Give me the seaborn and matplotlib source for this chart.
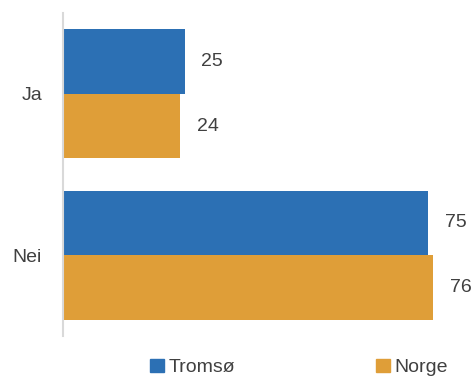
import matplotlib
matplotlib.use("Agg")
import matplotlib.pyplot as plt
import seaborn as sns
import pandas as pd
from matplotlib.patches import Patch

categories = ["Ja", "Nei"]
series = ["Tromsø", "Norge"]
tromso = [25, 75]
norge = [24, 76]
colors = ["#2C70B4", "#DF9E38"]

df = pd.DataFrame({
    "svar": categories * 2,
    "sted": [series[0]] * 2 + [series[1]] * 2,
    "verdi": tromso + norge,
})

sns.set_theme(style="white")
plt.rcParams["font.family"] = ["Liberation Sans", "DejaVu Sans"]
text_col = "#404040"

fig = plt.figure(figsize=(4.75, 3.76), dpi=100)
ax = fig.add_axes([0.1326, 0.1064, 0.8674, 0.859])

sns.barplot(data=df, y="svar", x="verdi", hue="sted", orient="h",
            palette=colors, width=0.8, saturation=1, linewidth=0,
            ax=ax, legend=False)

for c in ax.containers:
    ax.bar_label(c, padding=12, fontsize=14, color=text_col)

ax.set_xlim(0, 84.6)
ax.set_ylim(1.5, -0.5)
ax.set_xticks([])
ax.set_xlabel("")
ax.set_ylabel("")
ax.tick_params(axis="y", length=0, pad=15, labelsize=14, labelcolor=text_col)
for s in ["top", "right", "bottom"]:
    ax.spines[s].set_visible(False)
ax.spines["left"].set_color("#d9d9d9")
ax.spines["left"].set_linewidth(1.5)

handles = [Patch(color=colors[0], label=series[0]),
           Patch(color=colors[1], label=series[1])]
fig.legend(handles=handles, loc="lower center", bbox_to_anchor=(0.63, -0.047),
           ncol=2, frameon=False, fontsize=14, handlelength=0.7, handleheight=0.7,
           handletextpad=0.25, columnspacing=7.25, labelcolor=text_col)

fig.savefig("out.png", dpi=100)
